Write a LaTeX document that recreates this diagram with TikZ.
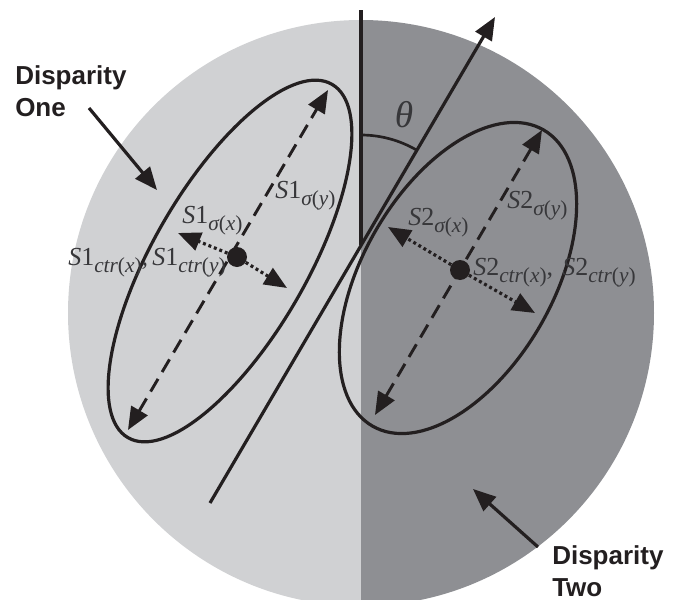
\documentclass[tikz,border=0pt]{standalone}
\usepackage{fontspec}
\setmainfont{Liberation Serif}
\newfontfamily\hvfont{Liberation Sans}
\usetikzlibrary{arrows.meta,calc}
\definecolor{lightgr}{RGB}{208,209,211}
\definecolor{darkgr}{RGB}{142,143,147}
\definecolor{ink}{RGB}{35,31,32}
\definecolor{labink}{RGB}{55,55,58}
\newcommand\slab[3]{{\itshape S}#1\raisebox{-0.3em}{\fontsize{16}{16}\selectfont\itshape #2\upshape(\itshape #3\upshape)}}
\begin{document}
\begin{tikzpicture}[x=0.75pt,y=-0.75pt,
  tip/.style={-{Triangle[length=17pt,width=14pt]}},
  tiptip/.style={{Triangle[length=17pt,width=14pt]}-{Triangle[length=17pt,width=14pt]}},
  solidline/.style={draw=ink,line width=2.4pt},
  dashline/.style={draw=ink,line width=2.2pt,dash pattern=on 11pt off 6pt},
  dotline/.style={draw=ink,line width=2.4pt,dash pattern=on 2.2pt off 2.2pt},
  bigtxt/.style={font=\hvfont\bfseries\fontsize{19.5}{23.5}\selectfont,text=ink,align=left,inner sep=0pt},
  lab/.style={font=\fontsize{19.5}{19.5}\selectfont,text=labink,inner sep=0pt,anchor=base west},
  dotnode/.style={circle,fill=ink,minimum size=15pt,inner sep=0pt}]
\useasboundingbox (0,0) rectangle (676,600);
% disc split in two halves
\begin{scope}
  \clip (361,313) circle[radius=293];
  \fill[lightgr] (0,0) rectangle (361,620);
  \fill[darkgr] (361,0) rectangle (676,620);
\end{scope}
% coordinates
\coordinate (vtop) at (361,10);
\coordinate (apex) at (361,245);
\coordinate (arcs) at (361,135);
\coordinate (lbot) at (210,503);
\coordinate (ltop) at (495,17);
% vertical and slanted lines
\draw[solidline] (vtop) -- (apex);
\draw[solidline,tip] (lbot) -- (ltop);
\draw[solidline,line width=2pt] (arcs) arc[start angle=-90,end angle=-59.8,radius=110];
\node[font=\itshape\fontsize{28}{28}\selectfont,text=labink,inner sep=0pt] (theta) at (404,115) {θ};
% ellipses
\draw[solidline] (230,261) ellipse[x radius=204,y radius=77,rotate=60];
\draw[solidline] (458,278) ellipse[x radius=171,y radius=95,rotate=60];
% centres
\node[dotnode] (c1) at (237,257) {};
\node[dotnode] (c2) at (460,270) {};
% axes of ellipse one
\coordinate (a1t) at (328,90);
\coordinate (a1b) at (128,430);
\coordinate (b1l) at (178,233);
\coordinate (b1r) at (287,288);
\draw[dashline,tiptip] (a1b) -- (a1t);
\draw[dotline,tip] (c1) -- (b1l);
\draw[dotline,tip] (c1) -- (b1r);
% axes of ellipse two
\coordinate (a2t) at (542,130);
\coordinate (a2b) at (375,415);
\coordinate (b2l) at (388,227);
\coordinate (b2r) at (535,313);
\draw[dashline,tiptip] (a2b) -- (a2t);
\draw[dotline,tip] (c2) -- (b2l);
\draw[dotline,tip] (c2) -- (b2r);
% labels
\node[lab] (s1sy) at (275,198) {\slab{1}{σ}{y}};
\node[lab] (s1sx) at (182,223) {\slab{1}{σ}{x}};
\node[lab] (s1cx) at (68,265) {\slab{1}{ctr}{x},};
\node[lab] (s1cy) at (152,265) {\slab{1}{ctr}{y}};
\node[lab] (s2sy) at (507,208) {\slab{2}{σ}{y}};
\node[lab] (s2sx) at (408,225) {\slab{2}{σ}{x}};
\node[lab] (s2cx) at (473,275) {\slab{2}{ctr}{x},};
\node[lab] (s2cy) at (562,275) {\slab{2}{ctr}{y}};
% disparity labels
\node[bigtxt,anchor=base west] (d1) at (15,116) {Disparity\\One};
\node[bigtxt,anchor=base west] (d2) at (552,596) {Disparity\\Two};
\coordinate (d1s) at (89,108);
\coordinate (d1e) at (157,190);
\coordinate (d2s) at (538,547);
\coordinate (d2e) at (473,489);
\draw[solidline,tip] (d1s) -- (d1e);
\draw[solidline,tip] (d2s) -- (d2e);
\end{tikzpicture}
\end{document}
